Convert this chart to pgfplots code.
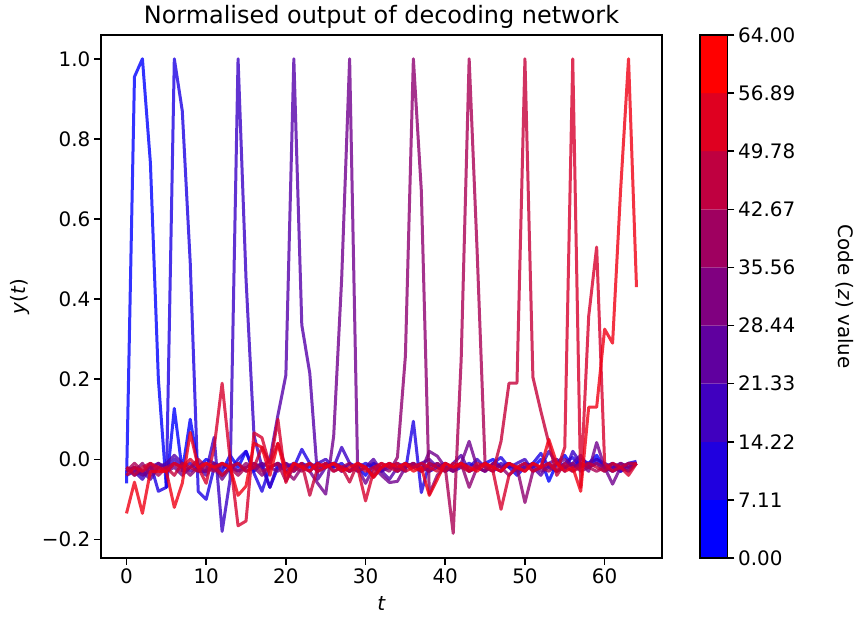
\documentclass[border=0pt]{standalone}
\usepackage{pgfplots}
\pgfplotsset{compat=1.18}
\usepackage{fontspec}
\setmainfont{DejaVu Sans}
\definecolor{c0}{RGB}{0,0,255}
\definecolor{c1}{RGB}{28,0,227}
\definecolor{c2}{RGB}{57,0,198}
\definecolor{c3}{RGB}{85,0,170}
\definecolor{c4}{RGB}{113,0,142}
\definecolor{c5}{RGB}{142,0,113}
\definecolor{c6}{RGB}{170,0,85}
\definecolor{c7}{RGB}{198,0,57}
\definecolor{c8}{RGB}{215,0,45}
\definecolor{c9}{RGB}{240,0,20}
\definecolor{b0}{RGB}{0,0,255}
\definecolor{b1}{RGB}{32,0,223}
\definecolor{b2}{RGB}{64,0,191}
\definecolor{b3}{RGB}{96,0,159}
\definecolor{b4}{RGB}{128,0,128}
\definecolor{b5}{RGB}{159,0,96}
\definecolor{b6}{RGB}{191,0,64}
\definecolor{b7}{RGB}{223,0,32}
\definecolor{b8}{RGB}{255,0,0}
\begin{document}
\begin{tikzpicture}
\useasboundingbox (-72.72bp,-42.48bp) rectangle (545.04bp,401.76bp);
\begin{axis}[
  at={(0,0)}, anchor=south west, scale only axis,
  width=403.92bp, height=376.56bp,
  xmin=-3.2, xmax=67.2, ymin=-0.2464, ymax=1.0594,
  xtick={0,10,20,30,40,50,60}, xticklabels={0,10,20,30,40,50,60},
  ytick={-0.2,0,0.2,0.4,0.6,0.8,1.0}, yticklabels={−0.2,0.0,0.2,0.4,0.6,0.8,1.0},
  xtick pos=bottom, ytick pos=left, tick align=outside,
  major tick length=5bp,
  every tick/.style={black, line width=1.15bp},
  axis line style={line width=1.15bp},
  tick label style={font=\fontsize{14.4}{17}\selectfont, inner sep=2.5bp},
  title={Normalised output of decoding network},
  title style={at={(axis description cs:0.5,1.0229)}, anchor=base, yshift=-6pt, font=\fontsize{17.3}{20}\selectfont, inner sep=0pt},
  xlabel={\textit{t}},
  xlabel style={at={(axis description cs:0.5,-0.1)}, anchor=base, inner sep=0pt, font=\fontsize{14.4}{17}\selectfont},
  ylabel={\textit{y}(\textit{t})},
  ylabel style={at={(axis description cs:-0.1443,0.5)}, anchor=center, inner sep=0pt, font=\fontsize{14.4}{17}\selectfont},
  every axis plot/.append style={line width=2.16bp, draw opacity=0.8, line join=round, mark=none},
]
\addplot[c0] coordinates {(0,-0.06)(1,0.955)(2,1.0)(3,0.74)(4,0.20)(5,-0.07)(6,0.127)(7,-0.03)(8,0.10)(9,-0.02)(10,0.00)(11,-0.01)(12,-0.03)(13,0.01)(14,-0.02)(15,0.02)(16,-0.03)(17,-0.01)(18,-0.07)(19,-0.02)(20,-0.01)(21,-0.03)(22,-0.01)(23,-0.02)(24,-0.01)(25,-0.02)(26,-0.01)(27,-0.03)(28,-0.01)(29,-0.02)(30,-0.04)(31,-0.01)(32,-0.02)(33,-0.01)(34,-0.03)(35,-0.01)(36,-0.02)(37,-0.01)(38,-0.03)(39,-0.02)(40,-0.01)(41,-0.02)(42,-0.01)(43,-0.03)(44,-0.02)(45,-0.01)(46,0.00)(47,-0.02)(48,-0.01)(49,-0.03)(50,-0.01)(51,-0.02)(52,0.00)(53,-0.055)(54,-0.01)(55,0.01)(56,-0.02)(57,0.00)(58,-0.01)(59,0.01)(60,-0.02)(61,-0.01)(62,-0.03)(63,-0.01)(64,-0.01)};
\addplot[c1] coordinates {(0,-0.03)(1,-0.02)(2,-0.04)(3,-0.01)(4,-0.08)(5,-0.07)(6,1.0)(7,0.87)(8,0.49)(9,-0.08)(10,-0.10)(11,-0.02)(12,-0.01)(13,-0.03)(14,0.00)(15,0.02)(16,-0.035)(17,-0.08)(18,-0.02)(19,-0.01)(20,-0.03)(21,-0.02)(22,0.025)(23,-0.01)(24,-0.03)(25,-0.01)(26,-0.02)(27,-0.01)(28,-0.03)(29,-0.02)(30,-0.01)(31,-0.02)(32,-0.03)(33,-0.01)(34,-0.02)(35,-0.03)(36,0.095)(37,-0.083)(38,-0.01)(39,-0.02)(40,-0.01)(41,-0.03)(42,-0.02)(43,-0.01)(44,-0.02)(45,-0.03)(46,-0.01)(47,0.005)(48,-0.02)(49,-0.04)(50,-0.02)(51,-0.01)(52,0.015)(53,-0.02)(54,-0.03)(55,-0.01)(56,0.005)(57,-0.02)(58,-0.01)(59,0.00)(60,-0.02)(61,-0.03)(62,-0.02)(63,-0.01)(64,-0.005)};
\addplot[c2] coordinates {(0,-0.04)(1,-0.03)(2,-0.05)(3,-0.02)(4,-0.01)(5,-0.02)(6,0.00)(7,-0.02)(8,-0.01)(9,-0.03)(10,-0.03)(11,0.055)(12,-0.18)(13,-0.05)(14,1.0)(15,0.45)(16,0.06)(17,-0.02)(18,-0.07)(19,-0.01)(20,-0.02)(21,-0.01)(22,-0.02)(23,-0.03)(24,-0.01)(25,0.00)(26,-0.02)(27,0.03)(28,-0.01)(29,-0.03)(30,-0.02)(31,-0.01)(32,-0.03)(33,-0.02)(34,-0.01)(35,-0.02)(36,-0.01)(37,-0.03)(38,-0.02)(39,-0.01)(40,-0.03)(41,-0.02)(42,-0.01)(43,-0.02)(44,0.00)(45,-0.02)(46,-0.03)(47,-0.01)(48,-0.02)(49,-0.01)(50,0.00)(51,-0.03)(52,-0.02)(53,0.02)(54,-0.01)(55,-0.03)(56,0.02)(57,-0.01)(58,-0.02)(59,0.00)(60,-0.01)(61,-0.02)(62,-0.03)(63,-0.02)(64,-0.01)};
\addplot[c3] coordinates {(0,-0.02)(1,-0.04)(2,-0.03)(3,-0.05)(4,-0.02)(5,-0.01)(6,0.01)(7,-0.01)(8,-0.03)(9,-0.02)(10,-0.04)(11,-0.01)(12,-0.02)(13,-0.01)(14,-0.03)(15,-0.02)(16,-0.01)(17,-0.02)(18,0.00)(19,0.11)(20,0.21)(21,1.0)(22,0.335)(23,0.215)(24,-0.05)(25,-0.02)(26,-0.01)(27,-0.02)(28,-0.03)(29,-0.01)(30,-0.02)(31,0.00)(32,-0.03)(33,-0.05)(34,-0.02)(35,-0.01)(36,-0.02)(37,-0.01)(38,0.00)(39,-0.02)(40,-0.03)(41,-0.01)(42,0.01)(43,-0.03)(44,-0.02)(45,-0.01)(46,-0.02)(47,-0.03)(48,-0.01)(49,-0.02)(50,-0.01)(51,-0.02)(52,-0.04)(53,-0.01)(54,0.00)(55,-0.02)(56,-0.01)(57,0.01)(58,-0.02)(59,-0.01)(60,-0.03)(61,-0.02)(62,-0.01)(63,-0.02)(64,-0.01)};
\addplot[c4] coordinates {(0,-0.03)(1,-0.02)(2,-0.04)(3,-0.03)(4,-0.01)(5,-0.03)(6,-0.02)(7,-0.04)(8,-0.02)(9,-0.01)(10,-0.03)(11,-0.02)(12,-0.05)(13,-0.02)(14,-0.01)(15,-0.03)(16,-0.02)(17,-0.01)(18,-0.02)(19,-0.03)(20,-0.01)(21,-0.02)(22,-0.01)(23,-0.03)(24,-0.06)(25,-0.087)(26,0.058)(27,0.45)(28,1.0)(29,-0.02)(30,-0.06)(31,-0.02)(32,-0.04)(33,-0.058)(34,-0.055)(35,-0.02)(36,-0.01)(37,-0.03)(38,0.02)(39,0.008)(40,-0.02)(41,-0.03)(42,-0.01)(43,0.045)(44,-0.02)(45,-0.03)(46,-0.01)(47,-0.02)(48,-0.01)(49,-0.03)(50,-0.02)(51,-0.01)(52,-0.03)(53,-0.02)(54,-0.01)(55,0.00)(56,-0.02)(57,-0.01)(58,-0.03)(59,0.042)(60,-0.02)(61,-0.062)(62,-0.02)(63,-0.03)(64,-0.01)};
\addplot[c5] coordinates {(0,-0.02)(1,-0.03)(2,-0.01)(3,-0.04)(4,-0.02)(5,-0.03)(6,-0.01)(7,-0.02)(8,-0.04)(9,-0.02)(10,-0.03)(11,-0.01)(12,-0.04)(13,-0.02)(14,-0.03)(15,-0.01)(16,-0.02)(17,-0.04)(18,-0.02)(19,-0.01)(20,-0.03)(21,-0.05)(22,-0.02)(23,-0.01)(24,-0.03)(25,-0.02)(26,-0.01)(27,-0.02)(28,-0.03)(29,-0.01)(30,-0.02)(31,-0.04)(32,-0.02)(33,-0.03)(34,0.005)(35,0.258)(36,1.0)(37,0.67)(38,-0.087)(39,-0.04)(40,-0.02)(41,-0.03)(42,-0.01)(43,-0.07)(44,-0.02)(45,-0.03)(46,-0.01)(47,-0.02)(48,-0.04)(49,-0.02)(50,-0.108)(51,-0.03)(52,-0.02)(53,-0.01)(54,-0.03)(55,-0.02)(56,-0.01)(57,-0.03)(58,-0.02)(59,-0.01)(60,-0.02)(61,-0.03)(62,-0.01)(63,-0.02)(64,-0.01)};
\addplot[c6] coordinates {(0,-0.03)(1,-0.01)(2,-0.03)(3,-0.02)(4,-0.04)(5,-0.02)(6,-0.01)(7,-0.03)(8,-0.02)(9,0.00)(10,-0.02)(11,-0.03)(12,-0.01)(13,-0.02)(14,-0.04)(15,-0.02)(16,-0.01)(17,-0.03)(18,-0.02)(19,-0.01)(20,-0.054)(21,-0.02)(22,-0.03)(23,-0.01)(24,-0.02)(25,-0.01)(26,-0.03)(27,-0.02)(28,-0.01)(29,-0.03)(30,-0.02)(31,-0.045)(32,-0.02)(33,-0.01)(34,-0.03)(35,-0.02)(36,-0.01)(37,-0.02)(38,-0.03)(39,-0.01)(40,-0.02)(41,-0.185)(42,0.25)(43,1.0)(44,0.52)(45,-0.012)(46,-0.02)(47,-0.03)(48,-0.01)(49,-0.02)(50,-0.03)(51,-0.01)(52,-0.02)(53,-0.03)(54,-0.01)(55,-0.02)(56,-0.03)(57,-0.01)(58,-0.02)(59,-0.03)(60,-0.02)(61,-0.01)(62,-0.02)(63,-0.03)(64,-0.01)};
\addplot[c7] coordinates {(0,-0.02)(1,-0.04)(2,-0.02)(3,-0.01)(4,-0.03)(5,-0.02)(6,-0.04)(7,-0.01)(8,-0.02)(9,-0.03)(10,-0.01)(11,-0.02)(12,-0.04)(13,-0.02)(14,-0.01)(15,-0.03)(16,-0.02)(17,0.03)(18,-0.01)(19,0.04)(20,-0.02)(21,-0.03)(22,-0.01)(23,-0.09)(24,-0.02)(25,-0.01)(26,-0.03)(27,-0.02)(28,-0.057)(29,-0.01)(30,-0.03)(31,-0.02)(32,-0.01)(33,-0.02)(34,-0.03)(35,-0.01)(36,-0.02)(37,-0.03)(38,-0.01)(39,-0.02)(40,-0.03)(41,-0.01)(42,-0.02)(43,-0.03)(44,-0.01)(45,-0.02)(46,-0.03)(47,0.045)(48,0.19)(49,0.19)(50,1.0)(51,0.205)(52,0.12)(53,0.04)(54,-0.04)(55,-0.01)(56,-0.03)(57,-0.02)(58,-0.01)(59,-0.02)(60,-0.03)(61,-0.01)(62,-0.02)(63,-0.01)(64,-0.01)};
\addplot[c8] coordinates {(0,-0.04)(1,-0.02)(2,-0.03)(3,-0.01)(4,-0.02)(5,-0.03)(6,-0.01)(7,-0.02)(8,0.00)(9,-0.02)(10,-0.06)(11,0.03)(12,0.19)(13,0.00)(14,-0.166)(15,-0.154)(16,0.066)(17,0.054)(18,-0.017)(19,0.10)(20,-0.058)(21,-0.01)(22,-0.02)(23,-0.01)(24,-0.03)(25,-0.02)(26,-0.01)(27,-0.02)(28,-0.03)(29,-0.02)(30,-0.104)(31,-0.03)(32,-0.01)(33,-0.02)(34,-0.01)(35,-0.03)(36,-0.02)(37,-0.01)(38,-0.02)(39,-0.03)(40,-0.01)(41,-0.02)(42,-0.01)(43,-0.03)(44,-0.02)(45,-0.01)(46,-0.03)(47,-0.125)(48,-0.04)(49,-0.02)(50,-0.01)(51,-0.03)(52,-0.02)(53,-0.01)(54,-0.03)(55,0.03)(56,1.0)(57,-0.07)(58,0.357)(59,0.53)(60,-0.01)(61,-0.03)(62,-0.02)(63,-0.04)(64,-0.01)};
\addplot[c9] coordinates {(0,-0.135)(1,-0.057)(2,-0.135)(3,-0.03)(4,-0.03)(5,-0.03)(6,-0.12)(7,-0.06)(8,0.067)(9,-0.02)(10,-0.01)(11,-0.02)(12,-0.01)(13,-0.02)(14,-0.09)(15,-0.067)(16,0.04)(17,0.03)(18,-0.04)(19,0.04)(20,-0.04)(21,-0.01)(22,-0.02)(23,-0.03)(24,-0.01)(25,-0.02)(26,-0.01)(27,-0.03)(28,-0.02)(29,-0.01)(30,-0.02)(31,-0.045)(32,-0.02)(33,-0.01)(34,-0.02)(35,-0.01)(36,-0.03)(37,-0.02)(38,-0.09)(39,-0.05)(40,-0.01)(41,-0.02)(42,-0.01)(43,-0.02)(44,-0.03)(45,-0.01)(46,-0.02)(47,-0.03)(48,-0.01)(49,-0.02)(50,-0.03)(51,-0.01)(52,-0.02)(53,0.05)(54,-0.01)(55,-0.03)(56,-0.02)(57,-0.08)(58,0.13)(59,0.13)(60,0.325)(61,0.29)(62,0.67)(63,1.0)(64,0.43)};
\end{axis}
\begin{axis}[
  at={(431.28bp,0)}, anchor=south west, scale only axis,
  width=19.8bp, height=376.56bp,
  xmin=0, xmax=1, ymin=0, ymax=64,
  xtick=\empty,
  ytick={0,7.1111,14.2222,21.3333,28.4444,35.5556,42.6667,49.7778,56.8889,64},
  yticklabels={0.00,7.11,14.22,21.33,28.44,35.56,42.67,49.78,56.89,64.00},
  ytick pos=right, yticklabel pos=right, tick align=outside,
  major tick length=5bp,
  every tick/.style={black, line width=1.15bp},
  axis line style={line width=1.15bp},
  tick label style={font=\fontsize{14.4}{17}\selectfont, inner sep=2.5bp},
  ylabel={Code (\textit{z}) value},
  ylabel style={at={(axis description cs:5.27,0.5)}, anchor=center, rotate=180, inner sep=0pt, font=\fontsize{14.4}{17}\selectfont},
  axis on top,
]
\addplot[draw=none, fill=b0] coordinates {(0,0)(1,0)(1,7.1111)(0,7.1111)(0,0)};
\addplot[draw=none, fill=b1] coordinates {(0,7.1111)(1,7.1111)(1,14.2222)(0,14.2222)(0,7.1111)};
\addplot[draw=none, fill=b2] coordinates {(0,14.2222)(1,14.2222)(1,21.3333)(0,21.3333)(0,14.2222)};
\addplot[draw=none, fill=b3] coordinates {(0,21.3333)(1,21.3333)(1,28.4444)(0,28.4444)(0,21.3333)};
\addplot[draw=none, fill=b4] coordinates {(0,28.4444)(1,28.4444)(1,35.5556)(0,35.5556)(0,28.4444)};
\addplot[draw=none, fill=b5] coordinates {(0,35.5556)(1,35.5556)(1,42.6667)(0,42.6667)(0,35.5556)};
\addplot[draw=none, fill=b6] coordinates {(0,42.6667)(1,42.6667)(1,49.7778)(0,49.7778)(0,42.6667)};
\addplot[draw=none, fill=b7] coordinates {(0,49.7778)(1,49.7778)(1,56.8889)(0,56.8889)(0,49.7778)};
\addplot[draw=none, fill=b8] coordinates {(0,56.8889)(1,56.8889)(1,64)(0,64)(0,56.8889)};
\end{axis}
\end{tikzpicture}
\end{document}
